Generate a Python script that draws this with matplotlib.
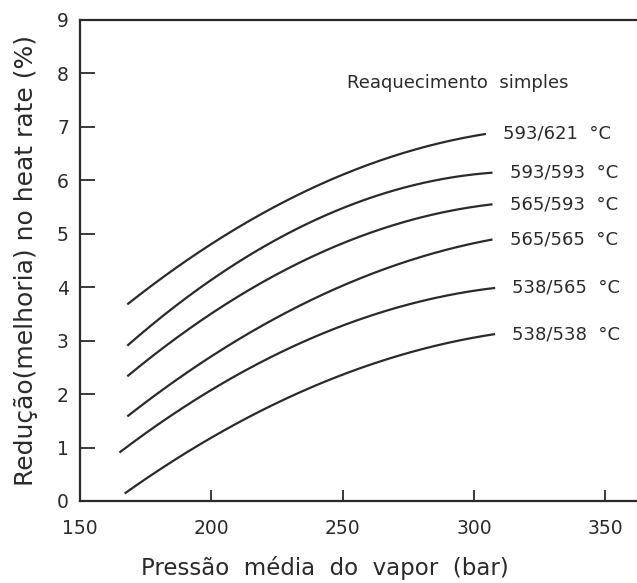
import numpy as np
import matplotlib
matplotlib.use("Agg")
import matplotlib.pyplot as plt

# Mean steam pressure (bar) at interior reading points; each curve also
# has its own start and end pressure
pressure_mid = [200, 225, 250, 275]
series_start = [168, 168, 168, 168, 165, 167]
series_end = [304.5, 307, 307, 307, 308, 308]

# Heat-rate reduction (%) for each single-reheat steam condition
# (values at start, 200, 225, 250, 275, end)
series_labels = ["593/621  °C", "593/593  °C", "565/593  °C",
                 "565/565  °C", "538/565  °C", "538/538  °C"]
r_593_621 = [3.67, 4.82, 5.54, 6.10, 6.52, 6.88]
r_593_593 = [2.89, 4.16, 4.92, 5.46, 5.86, 6.16]
r_565_593 = [2.34, 3.47, 4.29, 4.82, 5.22, 5.56]
r_565_565 = [1.57, 2.72, 3.47, 3.98, 4.50, 4.90]
r_538_565 = [0.90, 2.07, 2.80, 3.25, 3.66, 4.00]
r_538_538 = [0.17, 1.13, 1.82, 2.40, 2.80, 3.10]
series_values = [r_593_621, r_593_593, r_565_593, r_565_565, r_538_565, r_538_538]

x_ticks = [150, 200, 250, 300, 350]
y_ticks = [0, 1, 2, 3, 4, 5, 6, 7, 8, 9]

ink = "#2a2a2a"
plt.rcParams["font.family"] = ["DejaVu Sans"]

fig = plt.figure(figsize=(6.37, 5.83), dpi=100)
ax = fig.add_axes([0.1256, 0.1407, 0.8744, 0.825])

for vals, x0, x1, lab in zip(series_values, series_start, series_end, series_labels):
    xp = [x0] + pressure_mid + [x1]
    # smooth concave trend through the read points
    coef = np.polyfit(xp, vals, 2)
    xs = np.linspace(x0, x1, 150)
    ys = np.polyval(coef, xs)
    ax.plot(xs, ys, color=ink, lw=1.6, solid_capstyle="butt")
    ax.text(x1 + 6.5, ys[-1], lab, fontsize=13, color=ink,
            ha="left", va="center")

ax.text(251.5, 7.83, "Reaquecimento  simples", fontsize=13, color=ink,
        ha="left", va="center")

ax.set_xlim(150, 362)
ax.set_ylim(0, 9)
ax.set_xticks(x_ticks)
ax.set_yticks(y_ticks)
ax.tick_params(axis="both", direction="in", colors=ink, labelsize=13.5,
               width=1.3)
ax.tick_params(axis="y", length=11, pad=8)
ax.tick_params(axis="x", length=8, pad=13)

for side in ["left", "top", "bottom"]:
    ax.spines[side].set_linewidth(1.6)
    ax.spines[side].set_color(ink)
ax.spines["right"].set_visible(False)

ax.set_xlabel("Pressão  média  do  vapor  (bar)", fontsize=16.5, color=ink)
ax.xaxis.set_label_coords(0.44, -0.115)
ax.set_ylabel("Redução(melhoria) no heat rate (%)", fontsize=18, color=ink)
ax.yaxis.set_label_coords(-0.075, 0.5)

fig.savefig("out.png", dpi=100)
